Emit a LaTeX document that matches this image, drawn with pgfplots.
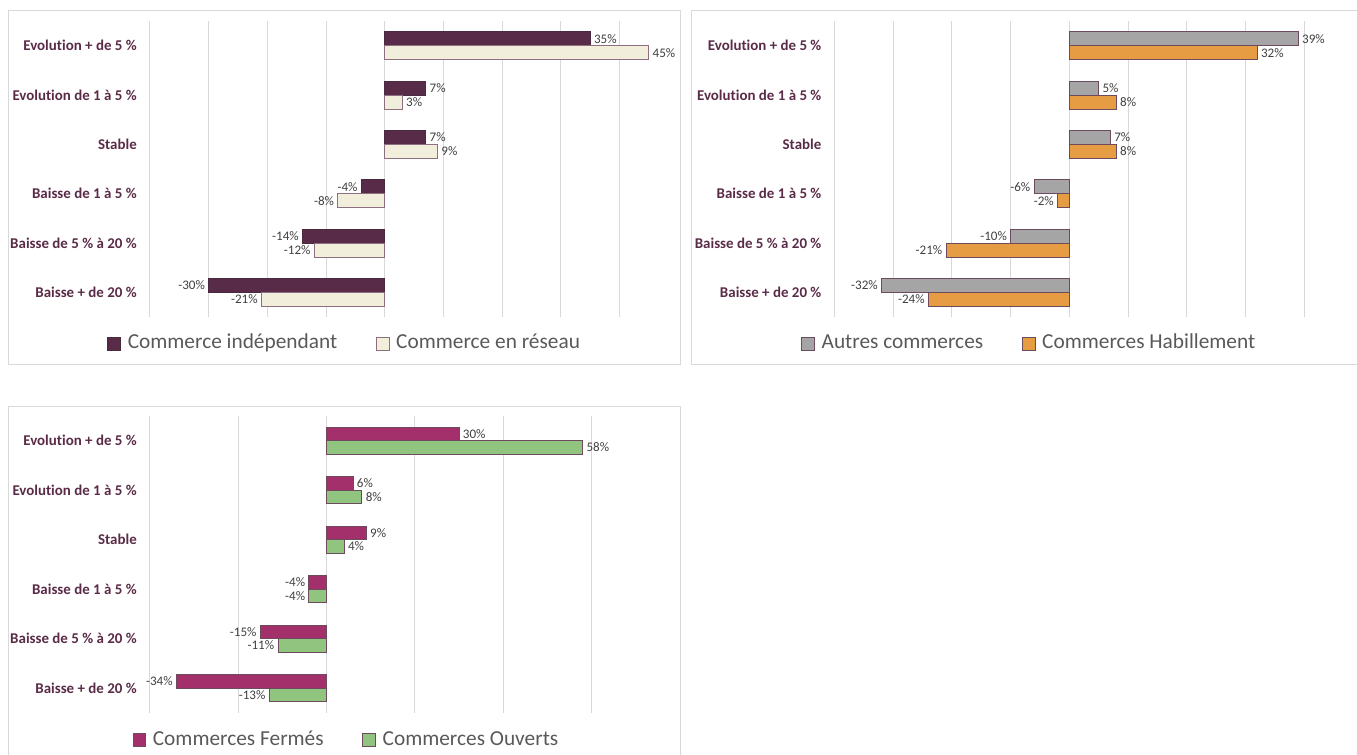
\documentclass[border=0pt]{standalone}
\usepackage{pgfplots}
\pgfplotsset{compat=1.18}
\usepackage{fontspec}
\setmainfont{Carlito}[Ligatures={NoCommon}]

\definecolor{plum}{HTML}{582C48}
\definecolor{plumedge}{HTML}{4A2A3E}
\definecolor{cream}{HTML}{F2EEDC}
\definecolor{creamedge}{HTML}{8E6F82}
\definecolor{greybar}{HTML}{A5A5A5}
\definecolor{orangebar}{HTML}{E69C43}
\definecolor{magbar}{HTML}{A3306A}
\definecolor{greenbar}{HTML}{90C47F}
\definecolor{baredge}{HTML}{6E4A5E}
\definecolor{labcol}{HTML}{5A2B47}
\definecolor{numcol}{HTML}{404040}
\definecolor{legcol}{HTML}{595959}
\definecolor{gridcol}{HTML}{D9D9D9}

\pgfplotsset{
  panel/.style={
    xbar, scale only axis, clip=false,
    y dir=reverse, ymin=-0.5, ymax=5.5,
    ytick={0,...,5},
    yticklabels={Evolution + de 5 \%, Evolution de 1 à 5 \%, Stable,
      Baisse de 1 à 5 \%, Baisse de 5 \% à 20 \%, Baisse + de 20 \%},
    yticklabel style={font=\fontsize{11.2}{13}\selectfont\bfseries, text=labcol,
      anchor=east, inner sep=0pt, xshift=-9.75pt},
    xticklabels={},
    xmajorgrids, major grid style={draw=gridcol, line width=0.75pt},
    axis line style={draw=none},
    major tick length=0pt,
    bar width=10.5pt,
    point meta=x,
    nodes near coords={\pgfmathprintnumber[assume math mode=true]{\pgfplotspointmeta}\%},
    nodes near coords align=horizontal,
    every node near coord/.append style={font=\fontsize{9.8}{11}\selectfont, text=numcol, inner sep=2.5pt},
    legend style={draw=none, fill=none, legend columns=2, at={(0.375,-0.091)}, anchor=center,
      font=\fontsize{16}{18}\selectfont, text=legcol,
      nodes={text height=11pt, text depth=3.5pt, inner sep=0pt},
      /tikz/every even column/.append style={column sep=29pt}},
    legend image code/.code={\draw[##1, line width=0.75pt] (0pt,-4.8pt) rectangle (9.6pt,4.8pt);
      \path (14.5pt,0pt);},
  },
}

\begin{document}
\begin{tikzpicture}
\useasboundingbox (0,0) rectangle (1017.75pt,-565.5pt);
\clip (0,0) rectangle (1017.75pt,-565.5pt);

% panel frames
\draw[gridcol, line width=0.75pt] (6pt,-7.5pt) rectangle (510pt,-273pt);
\draw[gridcol, line width=0.75pt] (518.6pt,-7.5pt) rectangle (1022pt,-273pt);
\draw[gridcol, line width=0.75pt] (6pt,-304.5pt) rectangle (510pt,-572pt);

% panel 1
\begin{axis}[panel, at={(112.5pt,-237.75pt)}, anchor=south west,
  width=387.4pt, height=222pt, xmin=-40, xmax=48, xtick={-40,-30,...,40}]
\addplot[fill=plum, draw=plumedge, line width=0.75pt, bar shift=5.25pt] coordinates {
  (35,0) (7,1) (7,2) (-4,3) (-14,4) (-30,5)};
\addlegendentry{Commerce indépendant}
\addplot[fill=cream, draw=creamedge, line width=0.75pt, bar shift=-5.25pt] coordinates {
  (45,0) (3,1) (9,2) (-8,3) (-12,4) (-21,5)};
\addlegendentry{Commerce en réseau}
\end{axis}

% panel 2
\begin{axis}[panel, at={(625.95pt,-237.75pt)}, anchor=south west,
  width=387.4pt, height=222pt, xmin=-40, xmax=48, xtick={-40,-30,...,40}]
\addplot[fill=greybar, draw=baredge, line width=0.75pt, bar shift=5.25pt] coordinates {
  (39,0) (5,1) (7,2) (-6,3) (-10,4) (-32,5)};
\addlegendentry{Autres commerces}
\addplot[fill=orangebar, draw=baredge, line width=0.75pt, bar shift=-5.25pt] coordinates {
  (32,0) (8,1) (8,2) (-2,3) (-21,4) (-24,5)};
\addlegendentry{Commerces Habillement}
\end{axis}

% panel 3
\begin{axis}[panel, at={(112.5pt,-534.75pt)}, anchor=south west,
  width=390.75pt, height=222.75pt, xmin=-40, xmax=78, xtick={-40,-20,...,60},
  bar width=10.1pt]
\addplot[fill=magbar, draw=baredge, line width=0.75pt, bar shift=5.05pt] coordinates {
  (30,0) (6,1) (9,2) (-4,3) (-15,4) (-34,5)};
\addlegendentry{Commerces Fermés}
\addplot[fill=greenbar, draw=baredge, line width=0.75pt, bar shift=-5.05pt] coordinates {
  (58,0) (8,1) (4,2) (-4,3) (-11,4) (-13,5)};
\addlegendentry{Commerces Ouverts}
\end{axis}
\end{tikzpicture}
\end{document}
